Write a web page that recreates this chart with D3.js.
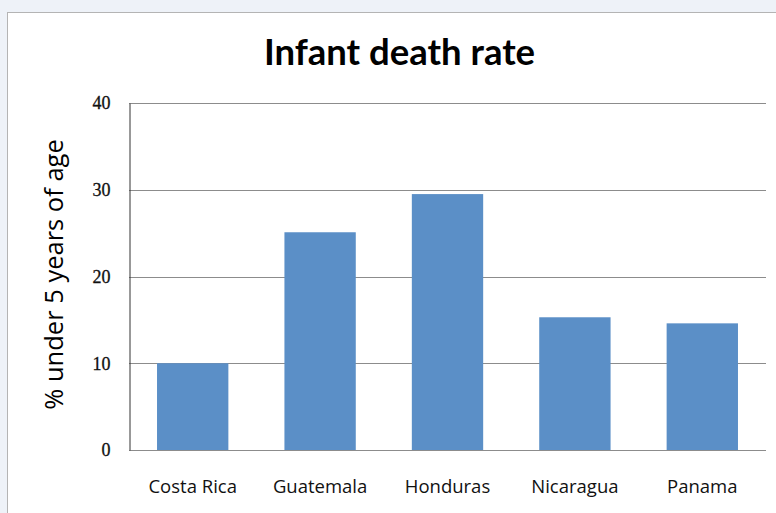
<!DOCTYPE html>
<html>
<head>
<meta charset="utf-8">
<script src="https://cdn.jsdelivr.net/npm/d3@7"></script>
<style>
  html, body { margin: 0; padding: 0; background: #eef2f8; }
  svg { display: block; }
</style>
</head>
<body>
<svg id="chart" width="776" height="513"></svg>
<script>
// Infant death rate by country (% under 5 years of age)
const countries = ["Costa Rica", "Guatemala", "Honduras", "Nicaragua", "Panama"];
const rates = [10.0, 25.1, 29.5, 15.3, 14.6];
const yTicks = [0, 10, 20, 30, 40];

const svg = d3.select("#chart");
const W = 776, H = 513;
const margin = { left: 129, right: 10, top: 103, bottom: 63 };

// Chart frame
svg.append("rect")
  .attr("x", 7.5).attr("y", 12.5)
  .attr("width", W + 10).attr("height", H + 10)
  .attr("fill", "#ffffff")
  .attr("stroke", "#b4b4b4")
  .attr("stroke-width", 1);

const x = d3.scaleBand()
  .domain(countries)
  .range([margin.left, W - margin.right])
  .paddingInner(0.44)
  .paddingOuter(0.22);

const y = d3.scaleLinear()
  .domain([0, 40])
  .range([H - margin.bottom, margin.top]);

// Gridlines
svg.append("g")
  .selectAll("line")
  .data(yTicks)
  .join("line")
  .attr("x1", margin.left)
  .attr("x2", W - margin.right)
  .attr("y1", d => Math.round(y(d)) + 0.5)
  .attr("y2", d => Math.round(y(d)) + 0.5)
  .attr("stroke", "#8c8c8c")
  .attr("stroke-width", 1);

// Bars
svg.append("g")
  .selectAll("rect")
  .data(countries)
  .join("rect")
  .attr("x", d => x(d))
  .attr("width", x.bandwidth())
  .attr("y", (d, i) => y(rates[i]))
  .attr("height", (d, i) => y(0) - y(rates[i]))
  .attr("fill", "#5b8fc7");

// Y axis
const yAxis = d3.axisLeft(y)
  .tickValues(yTicks)
  .tickSize(0)
  .tickPadding(19)
  .tickFormat(d3.format("d"));
const gy = svg.append("g")
  .attr("transform", `translate(${margin.left + 0.5},0)`)
  .call(yAxis);
gy.select(".domain").attr("stroke", "#333333");
gy.selectAll("text")
  .attr("font-family", "'Liberation Serif', 'DejaVu Serif', serif")
  .attr("font-size", 18)
  .attr("fill", "#111")
  .attr("stroke", "#111")
  .attr("stroke-width", 0.3);

// X axis labels
const xAxis = d3.axisBottom(x).tickSize(0).tickPadding(0);
const gx = svg.append("g")
  .attr("transform", `translate(0,${y(0)})`)
  .call(xAxis);
gx.select(".domain").remove();
gx.selectAll("text")
  .attr("dy", null)
  .attr("y", 43)
  .attr("font-family", "'Open Sans', sans-serif")
  .attr("font-size", 18.5)
  .attr("fill", "#111");

// Title
svg.append("text")
  .attr("x", 399.5)
  .attr("y", 65)
  .attr("text-anchor", "middle")
  .attr("font-family", "Lato, sans-serif")
  .attr("font-weight", "bold")
  .attr("font-size", 36.5)
  .attr("fill", "#000")
  .text("Infant death rate");

// Y axis title
svg.append("text")
  .attr("transform", `translate(63,274.5) rotate(-90)`)
  .attr("text-anchor", "middle")
  .attr("font-family", "'Open Sans', sans-serif")
  .attr("font-size", 25.5)
  .attr("fill", "#000")
  .text("% under 5 years of age");
</script>
</body>
</html>
